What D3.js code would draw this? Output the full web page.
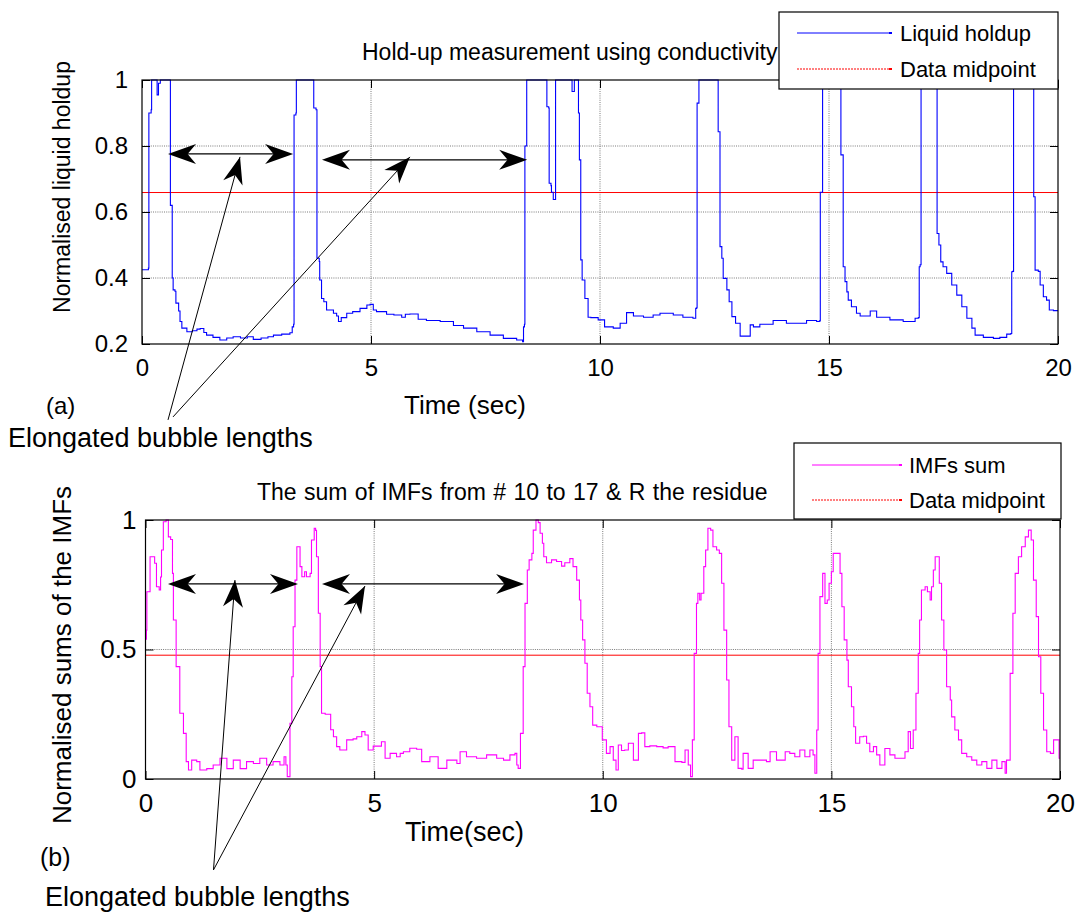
<!DOCTYPE html>
<html><head><meta charset="utf-8">
<script src="https://cdn.jsdelivr.net/npm/d3@7"></script>
<style>
body{margin:0;background:#fff}
text{font-family:"Liberation Sans",Arial,Helvetica,sans-serif;fill:#000}
</style>
</head><body>
<svg id="c" width="1081" height="915"></svg>
<script>
// ---------- data ----------
const timeA = [0,0.12,0.14,0.15,0.20,0.21,0.30,0.33,0.36,0.40,0.60,0.62,0.66,0.68,0.72,0.74,0.80,0.83,0.87,0.98,1.10,1.20,1.27,1.35,1.41,1.55,1.70,1.85,1.99,2.15,2.30,2.43,2.60,2.75,2.87,3.05,3.23,3.28,3.31,3.32,3.36,3.37,3.73,3.75,3.80,3.82,3.87,3.88,3.92,3.97,4.03,4.10,4.18,4.25,4.29,4.35,4.47,4.60,4.76,4.91,4.98,5.05,5.12,5.34,5.50,5.67,5.75,5.85,6.03,6.21,6.51,6.80,7.02,7.31,7.60,7.89,8.18,8.31,8.33,8.35,8.36,8.38,8.40,8.83,8.84,8.88,8.89,8.93,8.94,8.97,8.98,9.02,9.03,9.38,9.39,9.43,9.44,9.51,9.53,9.55,9.58,9.61,9.67,9.74,9.80,9.96,10.10,10.29,10.44,10.58,10.73,10.95,11.16,11.31,11.60,11.81,12.03,12.09,12.11,12.12,12.15,12.16,12.55,12.58,12.62,12.66,12.69,12.77,12.82,12.88,12.96,13.06,13.20,13.28,13.35,13.49,13.78,14.07,14.37,14.51,14.73,14.79,14.81,14.84,14.86,14.98,15.00,15.04,15.24,15.26,15.31,15.35,15.39,15.42,15.49,15.60,15.68,15.90,16.04,16.33,16.62,16.88,16.95,16.97,16.99,17.01,17.33,17.36,17.40,17.44,17.49,17.57,17.68,17.79,17.90,18.01,18.12,18.19,18.37,18.59,18.73,18.88,18.97,18.99,19.01,19.03,19.45,19.47,19.50,19.57,19.61,19.68,19.75,19.81,19.90,20.0];
const holdup = [0.425,0.425,0.43,0.90,0.91,1.0,1.0,0.955,0.99,1.0,1.0,0.62,0.40,0.364,0.36,0.324,0.30,0.268,0.248,0.237,0.24,0.245,0.247,0.235,0.227,0.22,0.212,0.218,0.222,0.218,0.222,0.214,0.218,0.222,0.227,0.230,0.234,0.252,0.26,0.894,0.90,1.0,1.0,0.915,0.91,0.46,0.45,0.394,0.338,0.328,0.303,0.303,0.293,0.285,0.268,0.28,0.293,0.298,0.308,0.318,0.32,0.303,0.298,0.29,0.288,0.281,0.29,0.291,0.275,0.271,0.268,0.256,0.248,0.237,0.227,0.217,0.212,0.207,0.252,0.26,0.80,0.80,1.0,1.0,0.919,0.915,0.687,0.68,0.66,0.66,0.638,0.638,1.0,1.0,0.965,0.965,1.0,1.0,0.90,0.758,0.455,0.394,0.338,0.281,0.28,0.273,0.252,0.248,0.263,0.295,0.285,0.281,0.288,0.293,0.288,0.281,0.278,0.308,0.31,0.93,0.93,1.0,1.0,0.843,0.495,0.46,0.399,0.364,0.328,0.283,0.263,0.224,0.224,0.258,0.252,0.26,0.271,0.263,0.263,0.271,0.268,0.27,0.66,0.66,1.0,1.0,0.985,1.0,1.0,0.773,0.434,0.389,0.358,0.333,0.313,0.293,0.285,0.30,0.281,0.273,0.268,0.278,0.28,0.434,0.44,1.0,1.0,0.535,0.50,0.449,0.434,0.414,0.379,0.348,0.313,0.278,0.248,0.227,0.22,0.217,0.22,0.23,0.232,0.419,0.42,1.0,1.0,0.646,0.424,0.42,0.379,0.343,0.333,0.303,0.301,0.301];

const timeB = [0.0,0.02,0.03,0.08,0.10,0.17,0.20,0.24,0.30,0.33,0.35,0.39,0.45,0.50,0.55,0.59,0.61,0.67,0.75,0.83,0.89,0.94,1.01,1.12,1.19,1.34,1.48,1.63,1.78,1.92,2.07,2.21,2.36,2.50,2.65,2.79,2.94,3.03,3.07,3.10,3.13,3.16,3.20,3.23,3.27,3.31,3.34,3.38,3.42,3.48,3.52,3.60,3.63,3.69,3.72,3.74,3.78,3.82,3.85,3.93,4.05,4.11,4.18,4.25,4.40,4.54,4.62,4.73,4.80,4.87,4.98,5.16,5.24,5.35,5.49,5.57,5.64,5.78,5.93,6.04,6.22,6.40,6.59,6.81,6.88,7.02,7.24,7.46,7.68,7.83,7.97,8.08,8.12,8.15,8.20,8.26,8.30,8.35,8.39,8.45,8.48,8.54,8.59,8.63,8.68,8.71,8.77,8.88,8.99,9.10,9.17,9.28,9.35,9.43,9.49,9.52,9.56,9.61,9.66,9.72,9.78,9.87,9.94,9.99,10.08,10.16,10.23,10.29,10.34,10.41,10.48,10.56,10.67,10.78,10.85,10.92,11.03,11.18,11.32,11.43,11.58,11.73,11.80,11.87,11.92,11.96,12.00,12.05,12.08,12.12,12.15,12.21,12.25,12.30,12.36,12.41,12.49,12.55,12.60,12.65,12.71,12.76,12.82,12.89,12.96,13.04,13.07,13.18,13.29,13.44,13.58,13.66,13.80,13.99,14.09,14.20,14.31,14.42,14.53,14.60,14.64,14.68,14.71,14.75,14.81,14.86,14.91,14.95,15.00,15.04,15.15,15.19,15.23,15.28,15.34,15.37,15.44,15.49,15.53,15.62,15.70,15.77,15.84,15.92,15.99,16.06,16.17,16.28,16.39,16.50,16.61,16.68,16.73,16.79,16.85,16.90,16.93,16.97,17.05,17.10,17.16,17.19,17.23,17.27,17.32,17.36,17.41,17.46,17.52,17.60,17.63,17.70,17.78,17.85,17.96,18.07,18.18,18.29,18.40,18.51,18.62,18.73,18.80,18.83,18.91,18.97,19.02,19.09,19.16,19.24,19.31,19.37,19.42,19.48,19.53,19.58,19.64,19.71,19.79,19.86,19.94,19.98,20.0];
const imfSum = [0.54,0.575,0.723,0.723,0.858,0.858,0.833,0.742,0.73,0.78,0.884,0.993,1.0,0.935,0.925,0.794,0.614,0.434,0.254,0.176,0.067,0.035,0.073,0.067,0.035,0.04,0.054,0.08,0.04,0.073,0.04,0.067,0.06,0.08,0.054,0.067,0.054,0.086,0.054,0.009,0.009,0.215,0.395,0.588,0.768,0.897,0.897,0.82,0.781,0.80,0.781,0.794,0.923,0.968,0.96,0.858,0.64,0.434,0.254,0.25,0.19,0.163,0.125,0.112,0.151,0.155,0.163,0.183,0.17,0.112,0.127,0.144,0.08,0.099,0.086,0.099,0.105,0.119,0.115,0.067,0.086,0.041,0.073,0.06,0.105,0.086,0.08,0.093,0.08,0.073,0.093,0.099,0.054,0.041,0.176,0.434,0.678,0.807,0.846,0.871,0.961,1.0,0.99,0.949,0.91,0.858,0.835,0.846,0.84,0.822,0.835,0.851,0.82,0.768,0.691,0.614,0.537,0.447,0.331,0.279,0.208,0.202,0.202,0.151,0.099,0.125,0.073,0.035,0.131,0.11,0.112,0.138,0.073,0.176,0.178,0.125,0.128,0.125,0.12,0.125,0.067,0.064,0.112,0.054,0.009,0.151,0.485,0.678,0.717,0.691,0.717,0.82,0.884,0.968,0.961,0.897,0.884,0.871,0.756,0.575,0.382,0.202,0.073,0.163,0.041,0.038,0.099,0.041,0.073,0.073,0.067,0.105,0.073,0.105,0.099,0.086,0.112,0.086,0.112,0.093,0.022,0.189,0.485,0.704,0.794,0.678,0.691,0.756,0.80,0.871,0.871,0.794,0.665,0.537,0.459,0.356,0.279,0.202,0.138,0.163,0.165,0.138,0.105,0.125,0.093,0.054,0.118,0.093,0.08,0.08,0.105,0.183,0.118,0.189,0.331,0.485,0.614,0.73,0.742,0.723,0.691,0.742,0.807,0.858,0.858,0.756,0.614,0.498,0.356,0.305,0.24,0.189,0.151,0.099,0.086,0.073,0.054,0.067,0.041,0.073,0.041,0.067,0.022,0.073,0.408,0.64,0.794,0.858,0.897,0.935,0.961,0.923,0.768,0.627,0.472,0.331,0.189,0.105,0.099,0.151,0.151,0.08,0.08];

const midpointA = 0.659;
const midpointB = 0.478;
const xTicks = [0, 5, 10, 15, 20];
const xGrid = [5, 10, 15];
const yTicksA = [0.2, 0.4, 0.6, 0.8, 1];
const yGridA = [0.4, 0.6, 0.8];
const yTicksB = [0, 0.5, 1];
const yGridB = [0.5];

// annotation arrows in data units: [t1, t2, level]
const spanArrowsA = [[0.568, 3.30, 0.776], [3.93, 8.41, 0.758]];
const pointerTipsA = [[2.14, 0.767], [5.85, 0.767]];
const pointerBaseA = [[0.568, -0.03], [0.677, -0.021]];
const spanArrowsB = [[0.492, 3.335, 0.753], [3.86, 8.28, 0.753]];
const pointerTipsB = [[1.957, 0.768], [4.80, 0.745]];
const pointerBaseB = [[1.487, -0.351], [1.487, -0.351]];

// ---------- drawing ----------
const svg = d3.select('#c');
const fmt = d => Number.isInteger(d) ? String(d) : d3.format('.1f')(d);

function head(g, tx, ty, fx, fy, L, W) {
  const a = Math.atan2(ty - fy, tx - fx), c = Math.cos(a), s = Math.sin(a);
  const pts = [[0, 0], [-L, -W], [-0.7 * L, 0], [-L, W]].map(([px, py]) => [tx + px * c - py * s, ty + px * s + py * c]);
  g.append('path').attr('d', 'M' + pts.map(p => p.join(',')).join('L') + 'Z').attr('fill', '#000');
}

function panel(cfg) {
  const g = svg.append('g');
  const x = d3.scaleLinear().domain([0, 20]).range([cfg.left, cfg.right]);
  const y = d3.scaleLinear().domain(cfg.ydom).range([cfg.bottom, cfg.top]);
  const gridStyle = s => s.attr('stroke', '#7a7a7a').attr('stroke-width', 1).attr('stroke-dasharray', '1,1.2');
  g.selectAll('.gx').data(xGrid).join('line').attr('x1', d => x(d)).attr('x2', d => x(d))
    .attr('y1', cfg.top).attr('y2', cfg.bottom).call(gridStyle);
  g.selectAll('.gy').data(cfg.ygrid).join('line').attr('y1', d => y(d)).attr('y2', d => y(d))
    .attr('x1', cfg.left).attr('x2', cfg.right).call(gridStyle);

  // midpoint
  g.append('line').attr('x1', cfg.left).attr('x2', cfg.right).attr('y1', y(cfg.mid)).attr('y2', y(cfg.mid))
    .attr('stroke', '#ff0000').attr('stroke-width', 1);

  const pts = cfg.t.map((t, i) => [t, cfg.v[i]]);
  g.append('path').datum(pts)
    .attr('d', d3.line().x(d => x(d[0])).y(d => y(d[1])).curve(cfg.curve))
    .attr('fill', 'none').attr('stroke', cfg.color).attr('stroke-width', 1.1);

  // axes with inward ticks
  const ax = (a, tr, tickVals, fmtFn, fs, pad) => {
    const gg = g.append('g').attr('transform', tr)
      .call(a.tickValues(tickVals).tickSizeInner(-8).tickSizeOuter(0).tickPadding(pad).tickFormat(fmtFn));
    gg.select('.domain').remove();
    gg.selectAll('line').attr('stroke', '#000');
    gg.selectAll('text').attr('font-size', fs).attr('font-family', '"Liberation Sans",Arial,sans-serif').attr('fill', '#000');
    return gg;
  };
  ax(d3.axisBottom(x), `translate(0,${cfg.bottom})`, xTicks, fmt, cfg.fs, cfg.xpad);
  ax(d3.axisTop(x), `translate(0,${cfg.top})`, xTicks, () => '', cfg.fs, 0);
  ax(d3.axisLeft(y), `translate(${cfg.left},0)`, cfg.yticks, fmt, cfg.fs, cfg.ypad);
  ax(d3.axisRight(y), `translate(${cfg.right},0)`, cfg.yticks, () => '', cfg.fs, 0);

  g.append('rect').attr('x', cfg.left).attr('y', cfg.top).attr('width', cfg.right - cfg.left)
    .attr('height', cfg.bottom - cfg.top).attr('fill', 'none').attr('stroke', '#000').attr('stroke-width', 1.2);

  // title
  g.append('text').attr('x', cfg.titleX).attr('y', cfg.titleY).attr('font-size', cfg.titleFs)
    .attr('word-spacing', cfg.titleWs || 0).text(cfg.title);

  // legend
  const L = cfg.legend;
  g.append('rect').attr('x', L.x).attr('y', L.y).attr('width', L.w).attr('height', L.h)
    .attr('fill', '#fff').attr('stroke', '#000').attr('stroke-width', 1.2);
  L.items.forEach((it, i) => {
    const yy = L.y + L.rows[i];
    g.append('line').attr('x1', L.lx1).attr('x2', L.lx2).attr('y1', yy).attr('y2', yy)
      .attr('stroke', it.color).attr('stroke-width', 1).attr('stroke-dasharray', it.dash || null);
    g.append('rect').attr('x', L.lx2 - 1).attr('y', yy - 1).attr('width', 3).attr('height', 2).attr('fill', it.color);
    g.append('text').attr('x', L.tx).attr('y', yy + 8).attr('font-size', L.fs).text(it.label);
  });

  // annotations
  cfg.spans.forEach(([t1, t2, v]) => {
    const x1 = x(t1), x2 = x(t2), yy = y(v);
    g.append('line').attr('x1', x1 + 10).attr('x2', x2 - 10).attr('y1', yy).attr('y2', yy)
      .attr('stroke', '#000').attr('stroke-width', 1.3);
    head(g, x1, yy, x2, yy, 28, 10);
    head(g, x2, yy, x1, yy, 28, 10);
  });
  cfg.tips.forEach(([t, v], i) => {
    const [bt, bv] = cfg.bases[i];
    const tx = x(t), ty = y(v), bx = x(bt), by = y(bv);
    g.append('line').attr('x1', bx).attr('y1', by).attr('x2', tx).attr('y2', ty)
      .attr('stroke', '#000').attr('stroke-width', 1);
    head(g, tx, ty, bx, by, 27, 10);
  });
  return {x, y};
}

panel({
  left: 142, right: 1058, top: 80, bottom: 344, ydom: [0.2, 1],
  t: timeA, v: holdup, color: '#0000ff', curve: d3.curveStepAfter, mid: midpointA,
  yticks: yTicksA, ygrid: yGridA, fs: 24, xpad: 15, ypad: 14,
  title: 'Hold-up measurement using conductivity', titleX: 362, titleY: 60, titleFs: 23,
  legend: {x: 779, y: 12, w: 279, h: 77, lx1: 797, lx2: 890, tx: 900, fs: 22, rows: [21, 57],
    items: [{label: 'Liquid holdup', color: '#0000ff'}, {label: 'Data midpoint', color: '#ff0000', dash: '2,1'}]},
  spans: spanArrowsA, tips: pointerTipsA, bases: pointerBaseA
});

panel({
  left: 145.5, right: 1060, top: 520, bottom: 779, ydom: [0, 1],
  t: timeB, v: imfSum, color: '#ff00ff', curve: d3.curveStepAfter, mid: midpointB,
  yticks: yTicksB, ygrid: yGridB, fs: 26, xpad: 15, ypad: 9,
  title: 'The sum of IMFs from # 10 to 17 & R the residue', titleX: 257, titleY: 500, titleFs: 23, titleWs: 1,
  legend: {x: 794, y: 443, w: 267, h: 76, lx1: 812, lx2: 900, tx: 909, fs: 22, rows: [22, 57],
    items: [{label: 'IMFs sum', color: '#ff00ff'}, {label: 'Data midpoint', color: '#ff0000', dash: '2,1'}]},
  spans: spanArrowsB, tips: pointerTipsB, bases: pointerBaseB
});

// axis labels and notes
const T = (x, y, s, txt, rot) => {
  const t = svg.append('text').attr('font-size', s).text(txt);
  if (rot) t.attr('transform', `translate(${x},${y}) rotate(-90)`).attr('text-anchor', 'middle');
  else t.attr('x', x).attr('y', y);
  return t;
};
T(70, 187, 23, 'Normalised liquid holdup', true);
T(404, 414, 26, 'Time (sec)');
T(46, 414, 24, '(a)');
T(8, 447, 27, 'Elongated bubble lengths');
T(71, 655, 26, 'Normalised sums of the IMFs', true);
T(405, 841, 27, 'Time(sec)');
T(40, 866, 25, '(b)');
T(45, 906, 27, 'Elongated bubble lengths');
</script>
</body></html>
